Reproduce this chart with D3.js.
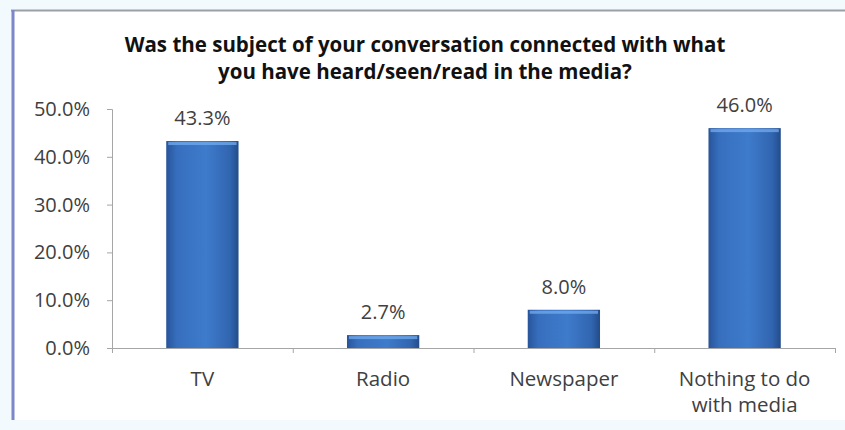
<!DOCTYPE html>
<html lang="en">
<head>
    <meta charset="UTF-8">
    <title>Media conversation chart</title>
    <script src="https://d3js.org/d3.v7.min.js"></script>
    <style>
        body { margin: 0; background: #f3fafe; }
        text { font-family: "Open Sans", sans-serif; }
    </style>
</head>
<body>
    <div id="chart"></div>
    <script>
        var categories = ["TV", "Radio", "Newspaper", "Nothing to do|with media"];
        var values = [43.3, 2.7, 8.0, 46.0];
        var tickValues = [0, 10, 20, 30, 40, 50];
        var titleLines = ["Was the subject of your conversation connected with what",
                          "you have heard/seen/read in the media?"];

        var W = 845, H = 430;
        var margin = {top: 109, right: 10, bottom: 82, left: 112},
            width = 835 - margin.left,
            height = 348 - margin.top;

        var svg = d3.select("#chart").append("svg")
            .attr("width", W).attr("height", H);

        // frame
        svg.append("rect").attr("x", 12).attr("y", 10).attr("width", W - 12).attr("height", 410)
            .attr("fill", "#ffffff");
        svg.append("line").attr("x1", 11).attr("x2", W).attr("y1", 10.5).attr("y2", 10.5)
            .attr("stroke", "#9aa0a8").attr("stroke-width", 2);
        svg.append("line").attr("x1", 13).attr("x2", 13).attr("y1", 10).attr("y2", 420)
            .attr("stroke", "#7d86c6").attr("stroke-width", 3);

        // title
        svg.append("text")
            .attr("text-anchor", "middle")
            .attr("font-weight", "bold")
            .attr("font-size", "20.5px")
            .attr("fill", "#111")
            .selectAll("tspan").data(titleLines).enter().append("tspan")
            .attr("x", 425)
            .attr("y", function (d, i) { return 52 + i * 27; })
            .text(function (d) { return d; });

        var defs = svg.append("defs");
        var grad = defs.append("linearGradient").attr("id", "barGrad")
            .attr("x1", "0%").attr("x2", "100%").attr("y1", "0%").attr("y2", "0%");
        grad.append("stop").attr("offset", "0%").attr("stop-color", "#28549a");
        grad.append("stop").attr("offset", "15%").attr("stop-color", "#376fbe");
        grad.append("stop").attr("offset", "55%").attr("stop-color", "#3e7bcb");
        grad.append("stop").attr("offset", "88%").attr("stop-color", "#3165b0");
        grad.append("stop").attr("offset", "100%").attr("stop-color", "#234c8a");

        var g = svg.append("g")
            .attr("transform", "translate(" + margin.left + "," + margin.top + ")");

        var x = d3.scaleBand().domain(categories).range([0, width]).paddingInner(0.6).paddingOuter(0.3);
        var y = d3.scaleLinear().domain([0, 50]).range([height, 0]);

        // y axis
        var yAxis = g.append("g")
            .call(d3.axisLeft(y).tickValues(tickValues).tickSize(5).tickPadding(17)
                .tickFormat(function (d) { return d.toFixed(1) + "%"; }));
        yAxis.select(".domain").attr("stroke", "#a6a6a6");
        yAxis.selectAll(".tick line").attr("stroke", "#a6a6a6");
        yAxis.selectAll("text").attr("font-size", "20px").attr("fill", "#404040")
            .attr("font-family", "'Open Sans', sans-serif");

        // x axis with ticks between categories
        var xb = d3.scaleLinear().domain([0, categories.length]).range([0, width]);
        var xAxis = g.append("g").attr("transform", "translate(0," + height + ")")
            .call(d3.axisBottom(xb).ticks(categories.length).tickSize(5).tickFormat(""));
        xAxis.select(".domain").attr("stroke", "#a6a6a6").attr("d", "M0,0.5H" + width);
        xAxis.selectAll(".tick line").attr("stroke", "#a6a6a6");

        // category labels, one text element per line
        categories.forEach(function (c) {
            c.split("|").forEach(function (line, i) {
                xAxis.append("text")
                    .attr("class", "catlabel")
                    .attr("x", x(c) + x.bandwidth() / 2)
                    .attr("y", 38 + i * 26)
                    .attr("text-anchor", "middle")
                    .attr("font-size", "20.5px")
                    .attr("fill", "#404040")
                    .text(line);
            });
        });

        // bars
        var bars = g.selectAll(".bar").data(values).enter().append("g").attr("class", "bar");
        bars.append("rect")
            .attr("x", function (d, i) { return x(categories[i]); })
            .attr("y", function (d) { return y(d); })
            .attr("width", x.bandwidth())
            .attr("height", function (d) { return height - y(d); })
            .attr("fill", "url(#barGrad)");
        bars.append("rect")
            .attr("x", function (d, i) { return x(categories[i]) + 2; })
            .attr("y", function (d) { return y(d) + 1; })
            .attr("width", x.bandwidth() - 4)
            .attr("height", 3)
            .attr("fill", "#6fa8ea").attr("opacity", 0.8);

        bars.append("text")
            .attr("x", function (d, i) { return x(categories[i]) + x.bandwidth() / 2; })
            .attr("y", function (d) { return y(d) - 16; })
            .attr("text-anchor", "middle")
            .attr("font-size", "20px")
            .attr("fill", "#404040")
            .text(function (d) { return d.toFixed(1) + "%"; });
    </script>
</body>
</html>
